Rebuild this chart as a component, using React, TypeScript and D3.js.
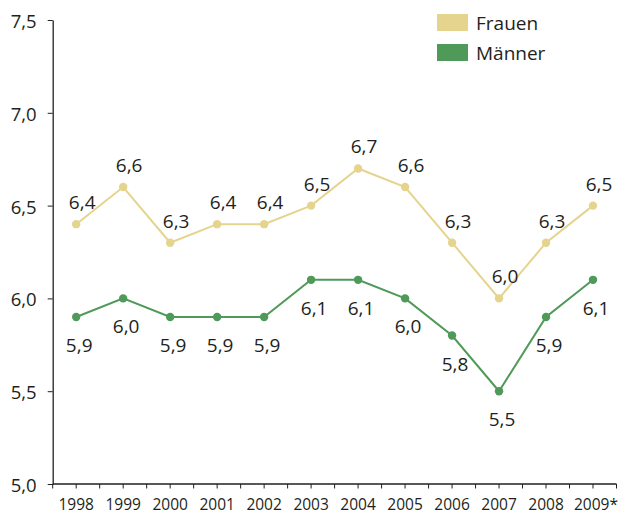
import React, { useEffect, useRef } from "react";
import * as d3 from "d3";

const years = ["1998", "1999", "2000", "2001", "2002", "2003", "2004", "2005", "2006", "2007", "2008", "2009*"];
const frauen = [6.4, 6.6, 6.3, 6.4, 6.4, 6.5, 6.7, 6.6, 6.3, 6.0, 6.3, 6.5];
const maenner = [5.9, 6.0, 5.9, 5.9, 5.9, 6.1, 6.1, 6.0, 5.8, 5.5, 5.9, 6.1];
const yTicks = [5.0, 5.5, 6.0, 6.5, 7.0, 7.5];

const W = 618;
const H = 514;
const FONT = "'Open Sans', 'Liberation Sans', sans-serif";
const INK = "#231f20";
const GOLD = "#e5d48e";
const GREEN = "#4f9a59";

const fmt = (v: number) => d3.format(".1f")(v).replace(".", ",");

const YAxis = ({ scale, x }: { scale: d3.ScaleLinear<number, number>; x: number }) => {
  const ref = useRef<SVGGElement>(null);
  useEffect(() => {
    const g = d3.select(ref.current);
    g.call(
      d3.axisLeft(scale).tickValues(yTicks).tickSize(5).tickSizeOuter(0).tickPadding(11).tickFormat((d) => fmt(+d))
    );
    g.select(".domain").attr("stroke", INK).attr("stroke-width", 1.3);
    g.selectAll(".tick line").attr("stroke", INK);
    g.selectAll(".tick text")
      .attr("fill", INK)
      .attr("font-size", 18.5)
      .attr("font-family", FONT)
      .attr("dy", "0.4em");
  }, [scale]);
  return <g ref={ref} transform={`translate(${x},0)`} />;
};

export default function App() {
  const x = d3.scaleBand().domain(years).range([52.7, 616.5]).padding(0);
  const y = d3.scaleLinear().domain([5, 7.5]).range([484, 20]);
  const cx = (i: number) => (x(years[i]) as number) + x.bandwidth() / 2;

  const line = d3
    .line<number>()
    .x((_, i) => cx(i))
    .y((d) => y(d));

  // ticks on band edges and band centres
  const tickXs: number[] = [];
  years.forEach((yr, i) => {
    tickXs.push(x(yr) as number);
    tickXs.push(cx(i));
  });
  tickXs.push(x.range()[1]);

  const series = [
    { name: "Frauen", values: frauen, color: GOLD, dx: 6, dy: -22 },
    { name: "Männer", values: maenner, color: GREEN, dx: 3, dy: 28 },
  ];

  return (
    <svg width={W} height={H} style={{ position: "absolute", left: 0, top: 0, background: "#fff" }}>
      {series.map((s) => (
        <g key={s.name}>
          <path d={line(s.values) || ""} fill="none" stroke={s.color} strokeWidth={2} />
          {s.values.map((v, i) => (
            <circle key={i} cx={cx(i)} cy={y(v)} r={4.2} fill={s.color} />
          ))}
          {s.values.map((v, i) => (
            <text
              key={"t" + i}
              x={cx(i) + s.dx}
              y={y(v) + s.dy}
              textAnchor="middle"
              dominantBaseline="central"
              fontSize={19}
              fontFamily={FONT}
              fill={INK}
            >
              {fmt(v)}
            </text>
          ))}
        </g>
      ))}

      <YAxis scale={y} x={52.7} />
      <line x1={52.7} x2={x.range()[1]} y1={484} y2={484} stroke={INK} strokeWidth={1.3} />
      {tickXs.map((t, i) => (
        <line key={i} x1={t} x2={t} y1={484} y2={488.5} stroke={INK} strokeWidth={1} />
      ))}
      {years.map((yr, i) => (
        <text
          key={yr}
          x={cx(i) + (yr.endsWith("*") ? 3 : 0)}
          y={504}
          textAnchor="middle"
          dominantBaseline="central"
          fontSize={15.5}
          fontFamily={FONT}
          fill={INK}
        >
          {yr}
        </text>
      ))}

      {series.map((s, i) => (
        <g key={"lg" + s.name} transform={`translate(437,${14 + i * 30})`}>
          <rect width={31} height={17} fill={s.color} />
          <text x={39} y={9} dominantBaseline="central" fontSize={19} fontFamily={FONT} fill={INK}>
            {s.name}
          </text>
        </g>
      ))}
    </svg>
  );
}
